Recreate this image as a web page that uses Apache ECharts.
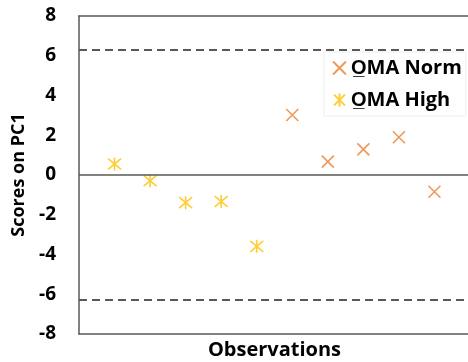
<!DOCTYPE html>
<html>
<head>
<meta charset="utf-8">
<script src="https://cdn.jsdelivr.net/npm/echarts@6/dist/echarts.min.js"></script>
<style>
  html, body { margin: 0; padding: 0; background: #fff; }
  #chart { width: 468px; height: 362px; }
</style>
</head>
<body>
<div id="chart"></div>
<script>
// PC1 scores per observation, split by group
const obsHigh = [1, 2, 3, 4, 5];
const scoresHigh = [0.55, -0.29, -1.39, -1.33, -3.59];
const obsNorm = [6, 7, 8, 9, 10];
const scoresNorm = [3.02, 0.67, 1.29, 1.90, -0.84];
// confidence limits drawn as dashed lines
const limitUpper = 6.3;
const limitLower = -6.3;
const yTicks = [-8, -6, -4, -2, 0, 2, 4, 6, 8];

const seriesNames = ['O\u0332MA Norm', 'O\u0332MA High'];

const crossPath = 'path://M0,0L10,10M10,0L0,10';
const starPath = 'path://M0,0L10,10M10,0L0,10M5,-1L5,11';

const FONT = '"Open Sans", "Liberation Sans", sans-serif';
const AXIS_GRAY = '#595959';

const chart = echarts.init(document.getElementById('chart'), null, { renderer: 'canvas' });

chart.setOption({
  animation: false,
  backgroundColor: '#ffffff',
  grid: { left: 79, top: 16, right: -2, bottom: 28, containLabel: false, outerBoundsMode: 'none' },
  legend: {
    orient: 'vertical',
    left: 324,
    top: 52,
    itemGap: 12,
    itemWidth: 13,
    itemHeight: 13,
    backgroundColor: '#ffffff',
    borderColor: '#eeeeee',
    borderWidth: 1,
    padding: [6, 4, 6, 8],
    data: seriesNames,
    textStyle: { fontFamily: FONT, fontWeight: 'bold', fontSize: 20, color: '#000' }
  },
  xAxis: [
    {
      type: 'value', min: 0, max: 11, position: 'bottom',
      axisLine: { onZero: false, lineStyle: { color: AXIS_GRAY, width: 1.5 } },
      axisTick: { show: false }, axisLabel: { show: false }, splitLine: { show: false },
      name: 'Observations', nameLocation: 'middle', nameGap: 6,
      nameTextStyle: { fontFamily: FONT, fontWeight: 'bold', fontSize: 20, color: '#000' }
    },
    {
      type: 'value', min: 0, max: 11, position: 'top',
      axisLine: { onZero: false, lineStyle: { color: AXIS_GRAY, width: 1.5 } },
      axisTick: { show: false }, axisLabel: { show: false }, splitLine: { show: false }
    }
  ],
  yAxis: {
    type: 'value', min: yTicks[0], max: yTicks[yTicks.length - 1], interval: 2,
    axisLine: { show: true, lineStyle: { color: AXIS_GRAY, width: 1.5 } },
    axisTick: { show: false }, splitLine: { show: false },
    axisLabel: { margin: 23, fontFamily: FONT, fontWeight: 'bold', fontSize: 19, color: '#000' },
    name: 'Scores on PC1', nameLocation: 'middle', nameGap: 48,
    nameTextStyle: { fontFamily: FONT, fontWeight: 'bold', fontSize: 18, color: '#000' }
  },
  series: [
    {
      name: seriesNames[1], type: 'scatter',
      data: obsHigh.map((x, i) => [x, scoresHigh[i]]),
      symbol: starPath, symbolSize: 13,
      itemStyle: { color: 'rgba(0,0,0,0)', borderColor: '#FFC000', borderWidth: 1.6 },
      markLine: {
        silent: true, symbol: 'none', label: { show: false },
        data: [
          { yAxis: 0, lineStyle: { type: 'solid', color: AXIS_GRAY, width: 1.5 } },
          { yAxis: limitUpper, lineStyle: { type: [8, 5], color: AXIS_GRAY, width: 2 } },
          { yAxis: limitLower, lineStyle: { type: [8, 5], color: AXIS_GRAY, width: 2 } }
        ]
      }
    },
    {
      name: seriesNames[0], type: 'scatter',
      data: obsNorm.map((x, i) => [x, scoresNorm[i]]),
      symbol: crossPath, symbolSize: 12,
      itemStyle: { color: 'rgba(0,0,0,0)', borderColor: '#ED7D31', borderWidth: 1.6 }
    }
  ]
});
</script>
</body>
</html>
